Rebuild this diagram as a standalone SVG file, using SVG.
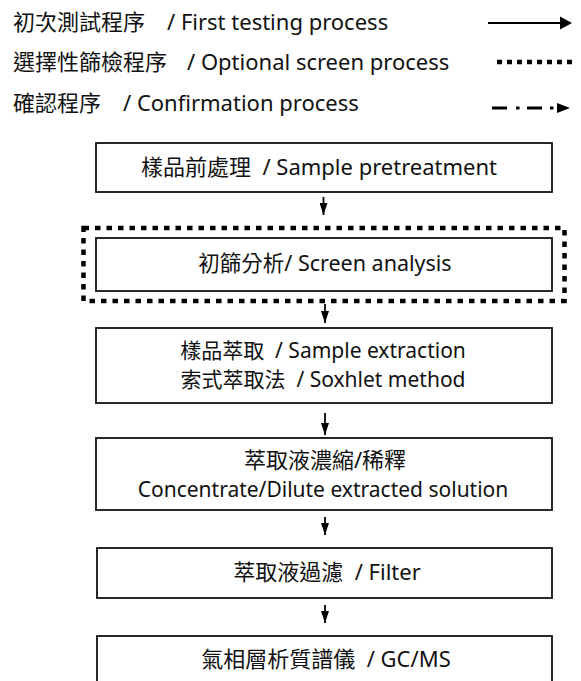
<svg xmlns="http://www.w3.org/2000/svg" width="581" height="681" viewBox="0 0 581 681">
<defs>
<style>
text{font-family:"Noto Sans","Noto Sans CJK TC",sans-serif;fill:#111;font-size:22px}
.c{text-anchor:middle}
.box{fill:#fff;stroke:#111;stroke-width:1.8}
.con{stroke:#000;stroke-width:1.8;fill:none}
.dot{fill:none;stroke:#000;stroke-width:4.5;stroke-dasharray:5.5 6}
</style>
<marker id="ah" viewBox="0 0 12 8" refX="12" refY="4" markerWidth="12" markerHeight="8" markerUnits="userSpaceOnUse" orient="auto"><path d="M0,0L12,4L0,8z" fill="#000"/></marker>
</defs>
<rect width="581" height="681" fill="#fff"/>
<g id="legend">
<text x="13" y="30">初次測試程序<tspan x="167">/ First testing process</tspan></text>
<text x="13" y="70">選擇性篩檢程序<tspan x="187">/ Optional screen process</tspan></text>
<text x="13" y="111">確認程序<tspan x="123">/ Confirmation process</tspan></text>
<line x1="488" y1="23" x2="562" y2="23" stroke="#000" stroke-width="2"/>
<path d="M560,16.5L572,23L560,29.5z" fill="#000"/>
<line x1="497" y1="62" x2="572" y2="62" fill="none" stroke="#000" stroke-width="4.5" stroke-dasharray="5 5"/>
<path d="M492,108H507M516,108H519.5M527,108H542M550,108H553.5" stroke="#000" stroke-width="3.2" fill="none"/>
<path d="M557,103L570,108L557,113z" fill="#000"/>
</g>
<g id="n1"><rect class="box" x="96" y="143" width="456" height="49"/><text class="c" x="319" y="175">樣品前處理&#160; / Sample pretreatment</text></g>
<g id="n2"><rect class="dot" x="83.5" y="228" width="481" height="73"/><rect class="box" x="96" y="238" width="456" height="53"/><text class="c" x="325" y="271" style="font-size:21.5px">初篩分析/ Screen analysis</text></g>
<g id="n3"><rect class="box" x="96" y="328" width="456" height="75"/><text class="c" x="323" y="358" style="font-size:21px">樣品萃取&#160; / Sample extraction</text><text class="c" x="323" y="387" style="font-size:21px">索式萃取法&#160; / Soxhlet method</text></g>
<g id="n4"><rect class="box" x="96" y="438" width="456" height="72"/><text class="c" x="325" y="468">萃取液濃縮/稀釋</text><text class="c" x="323" y="497" style="font-size:21px">Concentrate/Dilute extracted solution</text></g>
<g id="n5"><rect class="box" x="97" y="548" width="455" height="50"/><text class="c" x="327" y="580">萃取液過濾&#160; / Filter</text></g>
<g id="n6"><rect class="box" x="97" y="636" width="455" height="55"/><text class="c" x="326" y="667">氣相層析質譜儀&#160; / GC/MS</text></g>
<g id="connectors">
<line class="con" x1="323.5" y1="197" x2="323.5" y2="215" marker-end="url(#ah)"/>
<line class="con" x1="325" y1="304" x2="325" y2="323" marker-end="url(#ah)"/>
<line class="con" x1="325" y1="413" x2="325" y2="435" marker-end="url(#ah)"/>
<line class="con" x1="325" y1="517" x2="325" y2="535" marker-end="url(#ah)"/>
<line class="con" x1="325" y1="605" x2="325" y2="623" marker-end="url(#ah)"/>
</g>
</svg>
